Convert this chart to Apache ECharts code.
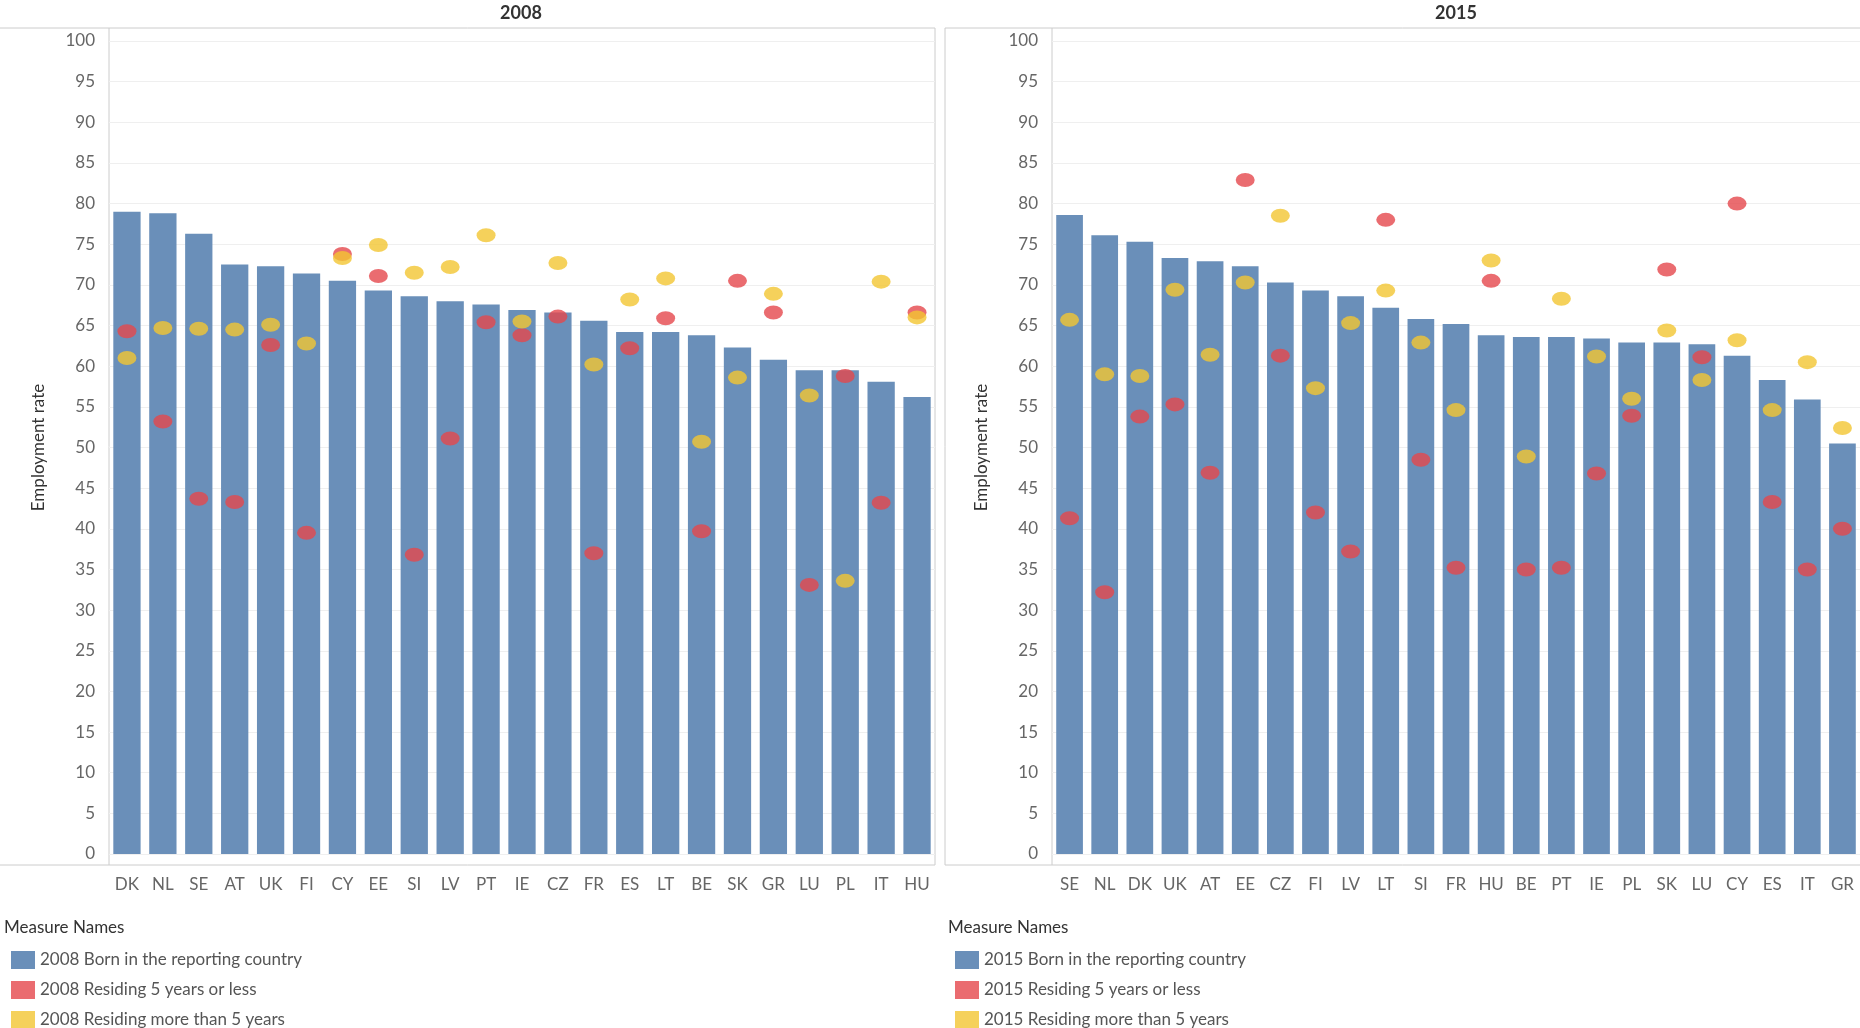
<!DOCTYPE html>
<html>
<head>
<meta charset="utf-8">
<title>Employment rate</title>
<script src="https://cdn.jsdelivr.net/npm/echarts@6/dist/echarts.min.js"></script>
<style>
  html,body{margin:0;padding:0;background:#fff;}
  #main{width:1860px;height:1028px;}
</style>
</head>
<body>
<div id="main"></div>
<script>
// 2008 panel
var cats2008 = ['DK','NL','SE','AT','UK','FI','CY','EE','SI','LV','PT','IE','CZ','FR','ES','LT','BE','SK','GR','LU','PL','IT','HU'];
var born2008 = [79,78.8,76.3,72.5,72.3,71.4,70.5,69.3,68.6,68,67.6,66.9,66.6,65.6,64.2,64.2,63.8,62.3,60.8,59.5,59.5,58.1,56.2];
var res5_2008 = [64.3,53.2,43.7,43.3,62.6,39.5,73.8,71.1,36.8,51.1,65.4,63.8,66.1,37,62.2,65.9,39.7,70.5,66.6,33.1,58.8,43.2,66.6];
var resMore2008 = [61,64.7,64.6,64.5,65.1,62.8,73.3,74.9,71.5,72.2,76.1,65.5,72.7,60.2,68.2,70.8,50.7,58.6,68.9,56.4,33.6,70.4,66];
// 2015 panel
var cats2015 = ['SE','NL','DK','UK','AT','EE','CZ','FI','LV','LT','SI','FR','HU','BE','PT','IE','PL','SK','LU','CY','ES','IT','GR'];
var born2015 = [78.6,76.1,75.3,73.3,72.9,72.3,70.3,69.3,68.6,67.2,65.8,65.2,63.8,63.6,63.6,63.4,62.9,62.9,62.7,61.3,58.3,55.9,50.5];
var res5_2015 = [41.3,32.2,53.8,55.3,46.9,82.9,61.3,42,37.2,78,48.5,35.2,70.5,35,35.2,46.8,53.9,71.9,61.1,80,43.3,35,40];
var resMore2015 = [65.7,59,58.8,69.4,61.4,70.3,78.5,57.3,65.3,69.3,62.9,54.6,73,48.9,68.3,61.2,56,64.4,58.3,63.2,54.6,60.5,52.4];

var BLUE = '#6a8fb9', RED = '#e5474c', YEL = '#f2c532';
var font = 'Lato, "Open Sans", sans-serif';

var chart = echarts.init(document.getElementById('main'));

function yAx(i){
    return {gridIndex:i,type:'value',min:0,max:100,interval:5,
        name:'Employment rate',nameLocation:'middle',nameGap:62,
        nameTextStyle:{color:'#333',fontSize:17,fontFamily:font},
        axisLine:{show:false},axisTick:{show:false},
        axisLabel:{color:'#666',fontSize:17,fontFamily:font,margin:14},
        splitLine:{lineStyle:{color:'#efefef'}}};
}
function xAx(i,c){
    return {gridIndex:i,type:'category',data:c,
        axisLine:{show:false},axisTick:{show:false},
        axisLabel:{color:'#666',fontSize:17,fontFamily:font,margin:22}};
}
function dots(name,i,d,col){
    return {name:name,type:'scatter',xAxisIndex:i,yAxisIndex:i,data:d,
        symbol:'circle',symbolSize:[19,14],itemStyle:{color:col},z:5};
}
function leg(x,names){
    return {orient:'vertical',left:x,top:946,height:90,itemWidth:24,itemHeight:18,itemGap:12,
        icon:'rect',textStyle:{color:'#555',fontSize:17,fontFamily:font},data:names};
}

var option = {
    animation:false,
    grid:[
        {left:109,width:826,top:41,bottom:174},
        {left:1052,right:0,top:41,bottom:174}
    ],
    xAxis:[xAx(0,cats2008),xAx(1,cats2015)],
    yAxis:[yAx(0),yAx(1)],
    legend:[
        leg(6,['2008 Born in the reporting country','2008 Residing 5 years or less','2008 Residing more than 5 years']),
        leg(950,['2015 Born in the reporting country','2015 Residing 5 years or less','2015 Residing more than 5 years'])
    ],
    graphic:[
        {type:'text',x:521,y:4,style:{text:'2008',fill:'#333',font:'bold 18px '+font,textAlign:'center'}},
        {type:'text',x:1456,y:4,style:{text:'2015',fill:'#333',font:'bold 18px '+font,textAlign:'center'}},
        {type:'line',shape:{x1:0,y1:28,x2:935,y2:28},style:{stroke:'#ccc',lineWidth:1}},
        {type:'line',shape:{x1:945,y1:28,x2:1860,y2:28},style:{stroke:'#ccc',lineWidth:1}},
        {type:'line',shape:{x1:935,y1:28,x2:935,y2:865},style:{stroke:'#ccc',lineWidth:1}},
        {type:'line',shape:{x1:945,y1:28,x2:945,y2:865},style:{stroke:'#ccc',lineWidth:1}},
        {type:'line',shape:{x1:109,y1:28,x2:109,y2:865},style:{stroke:'#ccc',lineWidth:1}},
        {type:'line',shape:{x1:1052,y1:28,x2:1052,y2:865},style:{stroke:'#ccc',lineWidth:1}},
        {type:'line',shape:{x1:0,y1:865,x2:935,y2:865},style:{stroke:'#ccc',lineWidth:1}},
        {type:'line',shape:{x1:945,y1:865,x2:1860,y2:865},style:{stroke:'#ccc',lineWidth:1}},
        {type:'text',x:4,y:919,style:{text:'Measure Names',fill:'#333',font:'17px '+font}},
        {type:'text',x:948,y:919,style:{text:'Measure Names',fill:'#333',font:'17px '+font}}
    ],
    series:[
        {name:'2008 Born in the reporting country',type:'bar',xAxisIndex:0,yAxisIndex:0,data:born2008,
         barCategoryGap:'24%',itemStyle:{color:BLUE}},
        dots('2008 Residing 5 years or less',0,res5_2008,RED),
        dots('2008 Residing more than 5 years',0,resMore2008,YEL),
        {name:'2015 Born in the reporting country',type:'bar',xAxisIndex:1,yAxisIndex:1,data:born2015,
         barCategoryGap:'24%',itemStyle:{color:BLUE}},
        dots('2015 Residing 5 years or less',1,res5_2015,RED),
        dots('2015 Residing more than 5 years',1,resMore2015,YEL)
    ]
};
chart.setOption(option);
</script>
</body>
</html>
